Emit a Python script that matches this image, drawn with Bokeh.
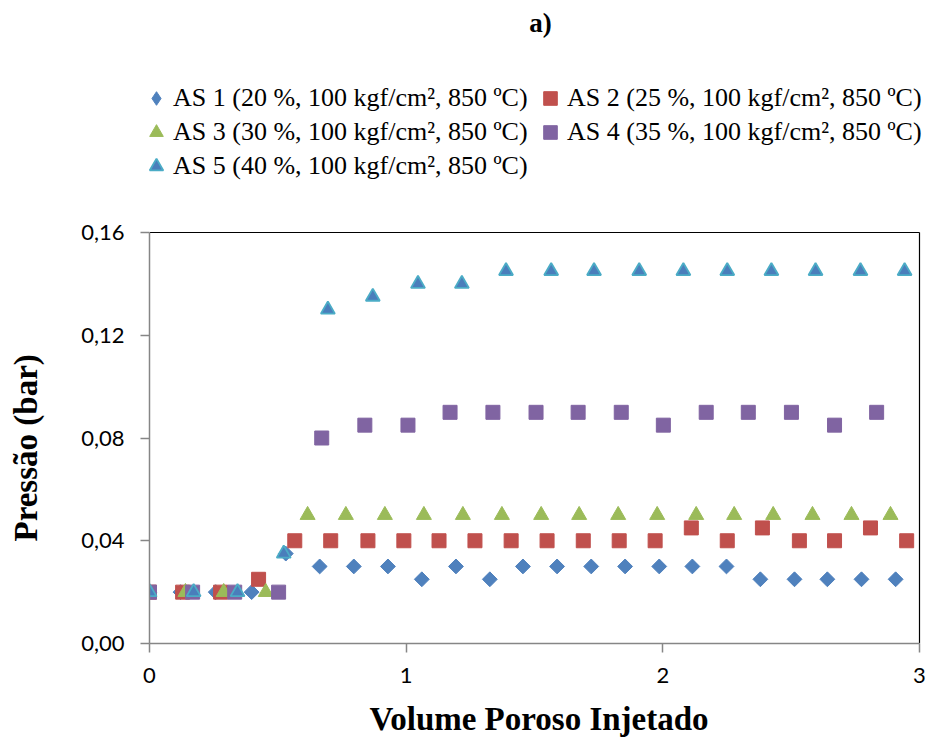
import math
from bokeh.plotting import figure
from bokeh.models import Range1d, FixedTicker, Legend, LegendItem, Label, Title
from bokeh.embed import file_html
from bokeh.resources import INLINE

# ---------------- data ----------------
title_text = "a)"
x_title = "Volume Poroso Injetado"
y_title = "Pressão (bar)"

x_ticks = [0, 1, 2, 3]
x_tick_labels = ["0", "1", "2", "3"]
y_ticks = [0.0, 0.04, 0.08, 0.12, 0.16]
y_tick_labels = ["0,00", "0,04", "0,08", "0,12", "0,16"]

series_names = [
    "AS 1 (20 %, 100 kgf/cm², 850 ºC)",
    "AS 2 (25 %, 100 kgf/cm², 850 ºC)",
    "AS 3 (30 %, 100 kgf/cm², 850 ºC)",
    "AS 4 (35 %, 100 kgf/cm², 850 ºC)",
    "AS 5 (40 %, 100 kgf/cm², 850 ºC)",
]

as1_x = [0.0, 0.121, 0.258, 0.398, 0.531, 0.663, 0.796, 0.929, 1.061, 1.194, 1.326,
         1.455, 1.588, 1.721, 1.853, 1.986, 2.115, 2.248, 2.380, 2.513, 2.641, 2.774, 2.907]
as1_y = [0.02, 0.02, 0.02, 0.02, 0.035, 0.03, 0.03, 0.03, 0.025, 0.03, 0.025,
         0.03, 0.03, 0.03, 0.03, 0.03, 0.03, 0.03, 0.025, 0.025, 0.025, 0.025, 0.025]

as2_x = [0.0, 0.129, 0.277, 0.425, 0.566, 0.706, 0.851, 0.991, 1.128, 1.268, 1.409,
         1.549, 1.690, 1.830, 1.970, 2.111, 2.251, 2.388, 2.532, 2.669, 2.809, 2.950]
as2_y = [0.02, 0.02, 0.02, 0.025, 0.04, 0.04, 0.04, 0.04, 0.04, 0.04, 0.04,
         0.04, 0.04, 0.04, 0.04, 0.045, 0.04, 0.045, 0.04, 0.04, 0.045, 0.04]

as3_x = [0.0, 0.140, 0.289, 0.453, 0.616, 0.765, 0.917, 1.069, 1.221, 1.373,
         1.526, 1.674, 1.826, 1.978, 2.130, 2.278, 2.430, 2.583, 2.735, 2.887]
as3_y = [0.02, 0.02, 0.02, 0.02, 0.05, 0.05, 0.05, 0.05, 0.05, 0.05,
         0.05, 0.05, 0.05, 0.05, 0.05, 0.05, 0.05, 0.05, 0.05, 0.05]

as4_x = [0.0, 0.168, 0.332, 0.503, 0.671, 0.839, 1.007, 1.171, 1.338, 1.506,
         1.670, 1.838, 2.002, 2.169, 2.333, 2.501, 2.669, 2.833]
as4_y = [0.02, 0.02, 0.02, 0.02, 0.08, 0.085, 0.085, 0.09, 0.09, 0.09,
         0.09, 0.09, 0.085, 0.09, 0.09, 0.09, 0.085, 0.09]

as5_x = [0.0, 0.172, 0.343, 0.523, 0.695, 0.870, 1.046, 1.217, 1.389, 1.565,
         1.732, 1.908, 2.080, 2.251, 2.423, 2.595, 2.770, 2.942]
as5_y = [0.02, 0.02, 0.02, 0.035, 0.13, 0.135, 0.14, 0.14, 0.145, 0.145,
         0.145, 0.145, 0.145, 0.145, 0.145, 0.145, 0.145, 0.145]

# ---------------- styles / layout ----------------
styles = [
    dict(marker="square", angle=math.pi / 4, size=10.5, fill_color="#4F81BD", line_color="#4F81BD", line_width=1),
    dict(marker="square", angle=0.0, size=14, fill_color="#C0504D", line_color="#C0504D", line_width=1),
    dict(marker="triangle", angle=0.0, size=15, fill_color="#9BBB59", line_color="#9BBB59", line_width=1),
    dict(marker="square", angle=0.0, size=14, fill_color="#8064A2", line_color="#8064A2", line_width=1),
    dict(marker="triangle", angle=0.0, size=14, fill_color="#4A7EBB", line_color="#4BACC6", line_width=1.8),
]
# legend keys cannot be rotated, so series 1 gets a (hidden) diamond-marker twin for its key
legend_key_style_1 = dict(marker="diamond", size=16, fill_color="#4F81BD", line_color="#4F81BD", line_width=1)

SERIF = "Liberation Serif"
SANS = "Lato"

W, H = 928, 740
LEFT, RIGHT_EDGE, TOP_EDGE, BOTTOM = 149, 919, 232, 643   # visible plot-area box in pixels
x_min, x_max = x_ticks[0], x_ticks[-1]
y_min, y_max = y_ticks[0], y_ticks[-1]
# the drawing frame spans the whole canvas height above the x axis, so that the
# legend and title (drawn inside the frame) are not clipped
x_end = x_min + (x_max - x_min) * (W - LEFT) / (RIGHT_EDGE - LEFT)
y_end = y_min + (y_max - y_min) * BOTTOM / (BOTTOM - TOP_EDGE)

p = figure(width=W, height=H, output_backend="svg", toolbar_location=None,
           x_range=Range1d(x_min, x_end), y_range=Range1d(y_min, y_end),
           min_border_left=LEFT, min_border_right=0, min_border_top=0,
           min_border_bottom=H - BOTTOM)
p.title.visible = False
p.xgrid.visible = False
p.ygrid.visible = False
p.outline_line_color = None
p.background_fill_color = "white"
p.border_fill_color = "white"

p.xaxis.ticker = FixedTicker(ticks=x_ticks)
p.xaxis.major_label_overrides = dict(zip(x_ticks, x_tick_labels))
p.xaxis.bounds = (x_min, x_max)
p.yaxis.ticker = FixedTicker(ticks=y_ticks)
p.yaxis.major_label_overrides = dict(zip(y_ticks, y_tick_labels))
p.yaxis.bounds = (y_min, y_max)

for ax in (p.xaxis[0], p.yaxis[0]):
    ax.axis_line_color = "#868686"
    ax.axis_line_width = 1.5
    ax.major_tick_line_color = "#868686"
    ax.major_tick_line_width = 1.5
    ax.major_tick_out = 9
    ax.major_tick_in = 0
    ax.minor_tick_line_color = None
    ax.major_label_text_font = SANS
    ax.major_label_text_font_size = "22px"
    ax.major_label_text_color = "black"

p.xaxis.axis_label = x_title
p.xaxis.axis_label_text_font = SERIF
p.xaxis.axis_label_text_font_style = "bold"
p.xaxis.axis_label_text_font_size = "33px"
p.xaxis.axis_label_text_color = "black"
p.xaxis.major_label_standoff = 15
p.xaxis.axis_label_standoff = 15
p.yaxis.major_label_standoff = 16

# y-axis title: a side-panel title, so it can be centred on the visible plot area
p.add_layout(Title(text=" ", text_font_size="1px", standoff=24), "left")   # spacer
p.add_layout(Title(text=y_title, text_font=SERIF, text_font_style="bold",
                   text_font_size="33px", text_color="black",
                   align="left", vertical_align="top", offset=102, standoff=11), "left")

# black plot-area border on top and right (as in the original)
p.segment(x0=[x_min, x_max], y0=[y_max, y_min], x1=[x_max, x_max], y1=[y_max, y_max],
          line_color="black", line_width=1.2)

all_x = [as1_x, as2_x, as3_x, as4_x, as5_x]
all_y = [as1_y, as2_y, as3_y, as4_y, as5_y]

renderers = []
for xs, ys, st in zip(all_x, all_y, styles):
    renderers.append(p.scatter(xs, ys, **st))

key1 = p.scatter(as1_x, as1_y, visible=False, **legend_key_style_1)
legend_renderers = [key1] + renderers[1:]

items = [LegendItem(label=name, renderers=[r]) for name, r in zip(series_names, legend_renderers)]

legend = Legend(items=items, ncols=2, orientation="horizontal",
                location=(139 - LEFT, 460),
                glyph_width=34, glyph_height=34, label_height=30,
                label_width=360, label_standoff=0, spacing=0, padding=0, margin=0,
                border_line_color=None, background_fill_alpha=0,
                label_text_font=SERIF, label_text_font_size="26px",
                label_text_color="black")
p.add_layout(legend, "center")

p.add_layout(Label(x=540 - LEFT, y=BOTTOM - 22, x_units="screen", y_units="screen", text=title_text,
                   text_font=SERIF, text_font_style="bold", text_font_size="27px",
                   text_align="center", text_baseline="middle", text_color="black"))

open("out.html", "w").write(file_html(p, INLINE))
